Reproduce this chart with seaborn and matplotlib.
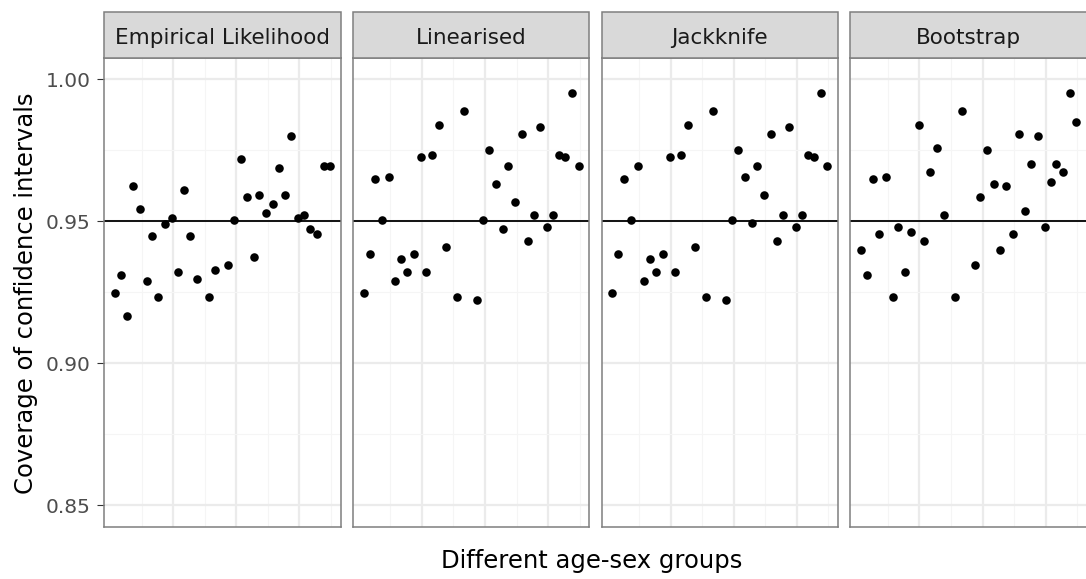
import numpy as np
import pandas as pd
import matplotlib
matplotlib.use("Agg")
import matplotlib.pyplot as plt
from matplotlib.patches import Rectangle
import seaborn as sns

# ---------------- data ----------------
methods = ["Empirical Likelihood", "Linearised", "Jackknife", "Bootstrap"]

groups = [0.76, 1.73, 2.64, 3.65, 4.76, 5.82, 6.66, 7.67, 8.72, 9.85, 10.72,
          11.67, 12.72, 13.85, 15.64, 16.71, 18.72, 19.66, 20.71, 21.78, 22.82,
          23.66, 24.75, 25.83, 26.79, 27.72, 28.72, 29.82, 30.80, 31.68, 32.74,
          33.83, 34.82]

cov_el = [0.9248, 0.9312, 0.9168, 0.9624, 0.9543, 0.9289, 0.9449, 0.9233, 0.9489,
          0.9513, 0.9321, 0.9609, 0.9449, 0.9297, 0.9233, 0.9329, 0.9345, 0.9505,
          0.9721, 0.9584, 0.9376, 0.9592, 0.9528, 0.9561, 0.9688, 0.9592, 0.9799,
          0.9513, 0.9521, 0.9472, 0.9457, 0.9696, 0.9696]

cov_lin = [0.9248, 0.9384, 0.9648, 0.9504, 0.9657, 0.9289, 0.9367, 0.9321, 0.9384,
           0.9727, 0.9321, 0.9735, 0.9840, 0.9408, 0.9233, 0.9888, 0.9224, 0.9504,
           0.9752, 0.9632, 0.9472, 0.9696, 0.9568, 0.9808, 0.9432, 0.9521, 0.9832,
           0.9481, 0.9521, 0.9735, 0.9727, 0.9952, 0.9696]

cov_jack = [0.9248, 0.9384, 0.9648, 0.9504, 0.9696, 0.9289, 0.9367, 0.9321, 0.9384,
            0.9727, 0.9321, 0.9735, 0.9840, 0.9408, 0.9233, 0.9888, 0.9224, 0.9504,
            0.9752, 0.9657, 0.9495, 0.9696, 0.9592, 0.9808, 0.9432, 0.9521, 0.9832,
            0.9481, 0.9521, 0.9735, 0.9727, 0.9952, 0.9696]

cov_boot = [0.9400, 0.9312, 0.9648, 0.9457, 0.9657, 0.9233, 0.9481, 0.9321, 0.9464,
            0.9840, 0.9432, 0.9672, 0.9759, 0.9521, 0.9233, 0.9888, 0.9345, 0.9584,
            0.9752, 0.9632, 0.9400, 0.9624, 0.9457, 0.9808, 0.9536, 0.9703, 0.9799,
            0.9481, 0.9640, 0.9703, 0.9672, 0.9952, 0.9848]

nominal = 0.95
y_ticks = [0.85, 0.90, 0.95, 1.00]
y_tick_labels = ["0.85", "0.90", "0.95", "1.00"]

series = [cov_el, cov_lin, cov_jack, cov_boot]
df = pd.concat(
    [pd.DataFrame({"method": m, "group": groups, "coverage": s})
     for m, s in zip(methods, series)],
    ignore_index=True,
)

# ---------------- style ----------------
sns.set_style("white")
plt.rcParams["font.family"] = ["DejaVu Sans"]

W, H = 1086, 579
fig = plt.figure(figsize=(W / 100, H / 100), dpi=100)

lefts = [104, 352.8, 601.6, 850.4]
pw = 236.5
top_px, bot_px = 58.0, 526.7
ah = bot_px - top_px
strip_top = 11.7

gmin, gmax = min(groups), max(groups)
gr = gmax - gmin
xlim = (gmin - 0.05 * gr, gmax + 0.05 * gr)
ylim = (0.85 - 0.0075, 1.0 + 0.0075)

border = "#7f7f7f"
for i, (m, l) in enumerate(zip(methods, lefts)):
    ax = fig.add_axes([l / W, (H - bot_px) / H, pw / W, ah / H])
    sub = df[df["method"] == m]
    ax.axhline(nominal, color="black", lw=1.3, zorder=2)
    sns.scatterplot(data=sub, x="group", y="coverage", ax=ax, color="black",
                    s=38, linewidth=0, zorder=3, legend=False)
    ax.set_xlim(*xlim)
    ax.set_ylim(*ylim)
    ax.set_xticks([10, 20, 30])
    ax.set_xticks([5, 15, 25, 35], minor=True)
    ax.set_yticks(y_ticks)
    ax.set_yticks([0.875, 0.925, 0.975], minor=True)
    ax.set_axisbelow(True)
    ax.grid(which="major", color="#EBEBEB", lw=1.6)
    ax.grid(which="minor", color="#F5F5F5", lw=0.8)
    ax.tick_params(axis="x", which="both", length=0, labelbottom=False)
    ax.tick_params(axis="y", which="minor", length=0)
    if i == 0:
        ax.set_yticklabels(y_tick_labels)
        ax.tick_params(axis="y", which="major", length=5.3, width=0.8,
                       color="#333333", pad=4.3, labelsize=14.5,
                       labelcolor="#4D4D4D", left=True)
    else:
        ax.tick_params(axis="y", which="major", length=0, labelleft=False)
    ax.set_xlabel("")
    ax.set_ylabel("")
    for sp in ax.spines.values():
        sp.set_visible(True)
        sp.set_color(border)
        sp.set_linewidth(1.1)
    # strip
    sh = (top_px - strip_top) / ah
    ax.add_patch(Rectangle((0, 1.0), 1, sh, transform=ax.transAxes,
                           facecolor="#D9D9D9", edgecolor=border, lw=1.1,
                           clip_on=False, zorder=5))
    ax.text(0.5, 1 + (top_px - 44.3) / ah, m, transform=ax.transAxes,
            ha="center", va="baseline", fontsize=15.5, color="#1A1A1A",
            zorder=6)

fig.text(591.7 / W, 1 - 568.3 / H, "Different age-sex groups",
         ha="center", va="baseline", fontsize=17.5, color="black")
fig.text(32.7 / W, 1 - 293.5 / H, "Coverage of confidence intervals",
         rotation=90, rotation_mode="anchor", ha="center", va="baseline",
         fontsize=17.5, color="black")

fig.savefig("out.png", dpi=100)
